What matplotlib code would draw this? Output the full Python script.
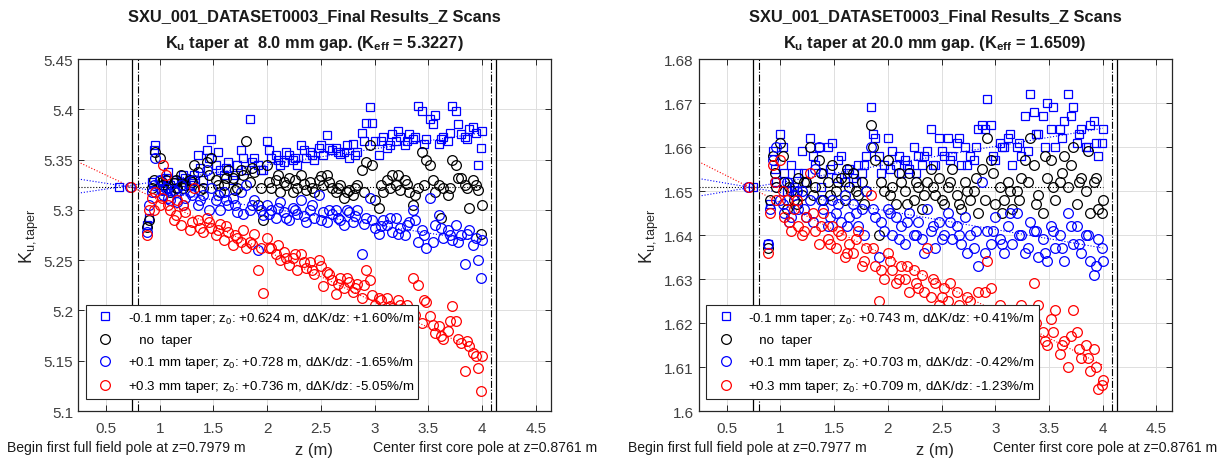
import numpy as np
import matplotlib
matplotlib.use('Agg')
import matplotlib.pyplot as plt
from matplotlib.ticker import FuncFormatter

plt.rcParams['font.family'] = ['Liberation Sans', 'DejaVu Sans']
plt.rcParams['mathtext.fontset'] = 'custom'
plt.rcParams['mathtext.rm'] = 'Liberation Sans'
plt.rcParams['mathtext.it'] = 'Liberation Sans:italic'
plt.rcParams['mathtext.bf'] = 'Liberation Sans:bold'

# measurement positions along the undulator (m): main scan + interleaved scan
z_pos = [0.88, 0.90, 0.93, 0.96, 1.00, 1.03, 1.06, 1.10, 1.13, 1.16,
         1.20, 1.24, 1.28, 1.32, 1.36, 1.40, 1.44, 1.48, 1.52, 1.56,
         1.60, 1.64, 1.68, 1.72, 1.76, 1.80, 1.84, 1.88, 1.92, 1.96,
         2.00, 2.04, 2.08, 2.12, 2.16, 2.20, 2.24, 2.28, 2.32, 2.36,
         2.40, 2.44, 2.48, 2.52, 2.56, 2.60, 2.64, 2.68, 2.72, 2.76,
         2.80, 2.84, 2.88, 2.92, 2.96, 3.00, 3.04, 3.08, 3.12, 3.16,
         3.20, 3.24, 3.28, 3.32, 3.36, 3.40, 3.44, 3.48, 3.52, 3.56,
         3.60, 3.64, 3.68, 3.72, 3.76, 3.80, 3.84, 3.88, 3.92, 3.96,
         4.00]
z_mid = [0.95, 1.02, 1.08, 1.15, 1.22, 1.30, 1.38, 1.46, 1.54, 1.62,
         1.70, 1.78, 1.86, 1.94, 2.02, 2.10, 2.18, 2.26, 2.34, 2.42,
         2.50, 2.58, 2.66, 2.74, 2.82, 2.90, 2.98, 3.06, 3.14, 3.22,
         3.30, 3.38, 3.46, 3.54, 3.62, 3.70, 3.78, 3.86, 3.94, 3.99]

# ---- 8.0 mm gap ----
k8_minus01 = [5.285, 5.292, 5.328, 5.365, 5.330, 5.320, 5.332, 5.325, 5.330, 5.322,
              5.328, 5.332, 5.325, 5.335, 5.355, 5.330, 5.360, 5.370, 5.345, 5.340,
              5.335, 5.348, 5.330, 5.345, 5.360, 5.340, 5.390, 5.352, 5.345, 5.340,
              5.368, 5.352, 5.355, 5.345, 5.348, 5.355, 5.350, 5.345, 5.365, 5.352,
              5.358, 5.350, 5.362, 5.355, 5.374, 5.360, 5.362, 5.356, 5.358, 5.352,
              5.366, 5.358, 5.376, 5.386, 5.402, 5.368, 5.355, 5.372, 5.362, 5.375,
              5.368, 5.372, 5.365, 5.375, 5.370, 5.403, 5.398, 5.370, 5.390, 5.394,
              5.366, 5.372, 5.368, 5.403, 5.398, 5.375, 5.372, 5.380, 5.382, 5.345,
              5.378]
k8_minus01_mid = [5.360, 5.325, 5.338, 5.328, 5.335, 5.330, 5.342, 5.352, 5.358, 5.342,
                  5.335, 5.352, 5.348, 5.340, 5.360, 5.350, 5.358, 5.352, 5.360, 5.355,
                  5.365, 5.362, 5.358, 5.365, 5.355, 5.368, 5.386, 5.368, 5.365, 5.378,
                  5.368, 5.372, 5.366, 5.385, 5.370, 5.376, 5.385, 5.370, 5.376, 5.362]
k8_none = [5.283, 5.290, 5.322, 5.358, 5.352, 5.325, 5.330, 5.318, 5.327, 5.322,
           5.335, 5.325, 5.330, 5.345, 5.338, 5.322, 5.348, 5.352, 5.330, 5.318,
           5.325, 5.340, 5.332, 5.322, 5.340, 5.368, 5.328, 5.338, 5.305, 5.290,
           5.345, 5.322, 5.330, 5.318, 5.328, 5.332, 5.318, 5.322, 5.335, 5.320,
           5.328, 5.318, 5.330, 5.325, 5.335, 5.322, 5.318, 5.325, 5.312, 5.320,
           5.315, 5.325, 5.340, 5.348, 5.365, 5.310, 5.302, 5.318, 5.330, 5.335,
           5.325, 5.320, 5.330, 5.318, 5.305, 5.322, 5.358, 5.350, 5.345, 5.318,
           5.325, 5.322, 5.315, 5.350, 5.345, 5.332, 5.325, 5.302, 5.330, 5.320,
           5.305]
k8_none_mid = [5.330, 5.328, 5.322, 5.330, 5.322, 5.328, 5.320, 5.335, 5.325, 5.332,
               5.320, 5.335, 5.342, 5.322, 5.328, 5.335, 5.325, 5.330, 5.326, 5.322,
               5.334, 5.328, 5.322, 5.318, 5.322, 5.318, 5.345, 5.325, 5.322, 5.335,
               5.326, 5.315, 5.325, 5.330, 5.292, 5.322, 5.332, 5.322, 5.325, 5.276]
k8_plus01 = [5.278, 5.305, 5.318, 5.352, 5.330, 5.315, 5.322, 5.310, 5.320, 5.308,
             5.325, 5.312, 5.318, 5.330, 5.305, 5.315, 5.340, 5.322, 5.310, 5.300,
             5.318, 5.305, 5.312, 5.298, 5.318, 5.325, 5.300, 5.310, 5.260, 5.295,
             5.305, 5.300, 5.292, 5.308, 5.298, 5.290, 5.302, 5.296, 5.310, 5.288,
             5.300, 5.292, 5.315, 5.298, 5.288, 5.296, 5.300, 5.290, 5.285, 5.298,
             5.288, 5.300, 5.256, 5.292, 5.312, 5.282, 5.276, 5.290, 5.285, 5.278,
             5.292, 5.282, 5.275, 5.288, 5.300, 5.268, 5.280, 5.262, 5.312, 5.285,
             5.295, 5.272, 5.280, 5.270, 5.285, 5.275, 5.246, 5.280, 5.265, 5.250,
             5.270]
k8_plus01_mid = [5.325, 5.320, 5.312, 5.318, 5.305, 5.315, 5.310, 5.300, 5.315, 5.310,
                 5.305, 5.296, 5.305, 5.300, 5.296, 5.302, 5.292, 5.300, 5.294, 5.305,
                 5.290, 5.300, 5.292, 5.300, 5.294, 5.286, 5.290, 5.284, 5.292, 5.276,
                 5.285, 5.290, 5.275, 5.268, 5.282, 5.275, 5.268, 5.276, 5.272, 5.232]
k8_plus03 = [5.275, 5.300, 5.312, 5.318, 5.305, 5.345, 5.335, 5.300, 5.290, 5.310,
             5.285, 5.298, 5.280, 5.322, 5.290, 5.278, 5.292, 5.282, 5.275, 5.286,
             5.270, 5.278, 5.265, 5.272, 5.268, 5.262, 5.268, 5.276, 5.240, 5.217,
             5.272, 5.262, 5.256, 5.250, 5.258, 5.245, 5.252, 5.240, 5.256, 5.242,
             5.248, 5.236, 5.250, 5.224, 5.238, 5.230, 5.216, 5.232, 5.222, 5.228,
             5.218, 5.226, 5.212, 5.240, 5.230, 5.205, 5.212, 5.200, 5.212, 5.202,
             5.196, 5.205, 5.192, 5.200, 5.232, 5.225, 5.188, 5.208, 5.194, 5.178,
             5.185, 5.172, 5.180, 5.204, 5.190, 5.168, 5.140, 5.165, 5.158, 5.143,
             5.155]
k8_plus03_mid = [5.300, 5.312, 5.305, 5.295, 5.305, 5.288, 5.282, 5.288, 5.280, 5.284,
                 5.275, 5.280, 5.266, 5.262, 5.262, 5.265, 5.252, 5.256, 5.248, 5.240,
                 5.244, 5.236, 5.226, 5.232, 5.222, 5.225, 5.215, 5.210, 5.204, 5.210,
                 5.205, 5.195, 5.210, 5.186, 5.175, 5.190, 5.172, 5.170, 5.155, 5.120]

# ---- 20.0 mm gap ----
k20_minus01 = [1.638, 1.647, 1.659, 1.652, 1.663, 1.654, 1.650, 1.656, 1.651, 1.654,
               1.659, 1.652, 1.662, 1.656, 1.660, 1.654, 1.660, 1.661, 1.653, 1.658,
               1.652, 1.655, 1.653, 1.656, 1.654, 1.658, 1.669, 1.662, 1.658, 1.656,
               1.662, 1.659, 1.656, 1.654, 1.657, 1.655, 1.660, 1.658, 1.656, 1.659,
               1.664, 1.656, 1.662, 1.658, 1.662, 1.658, 1.661, 1.656, 1.660, 1.658,
               1.657, 1.664, 1.665, 1.671, 1.665, 1.657, 1.661, 1.660, 1.662, 1.656,
               1.660, 1.658, 1.667, 1.672, 1.668, 1.663, 1.667, 1.670, 1.664, 1.660,
               1.664, 1.666, 1.672, 1.669, 1.661, 1.664, 1.660, 1.665, 1.666, 1.658,
               1.664]
k20_minus01_mid = [1.655, 1.660, 1.652, 1.650, 1.654, 1.658, 1.651, 1.655, 1.657, 1.654,
                   1.652, 1.656, 1.663, 1.654, 1.655, 1.658, 1.656, 1.654, 1.658, 1.656,
                   1.659, 1.657, 1.662, 1.656, 1.660, 1.664, 1.658, 1.660, 1.663, 1.661,
                   1.659, 1.663, 1.660, 1.669, 1.662, 1.667, 1.663, 1.660, 1.661, 1.661]
k20_none = [1.637, 1.648, 1.658, 1.651, 1.661, 1.652, 1.646, 1.650, 1.648, 1.653,
            1.649, 1.652, 1.660, 1.651, 1.657, 1.648, 1.652, 1.656, 1.650, 1.653,
            1.648, 1.651, 1.654, 1.649, 1.652, 1.650, 1.665, 1.657, 1.640, 1.650,
            1.657, 1.651, 1.647, 1.652, 1.650, 1.654, 1.648, 1.651, 1.646, 1.652,
            1.655, 1.649, 1.653, 1.647, 1.651, 1.655, 1.649, 1.646, 1.652, 1.648,
            1.650, 1.645, 1.655, 1.662, 1.657, 1.647, 1.651, 1.648, 1.652, 1.646,
            1.650, 1.653, 1.657, 1.662, 1.656, 1.649, 1.645, 1.653, 1.657, 1.648,
            1.652, 1.658, 1.651, 1.660, 1.647, 1.653, 1.650, 1.645, 1.652, 1.646,
            1.648]
k20_none_mid = [1.654, 1.658, 1.651, 1.647, 1.652, 1.649, 1.654, 1.649, 1.652, 1.655,
                1.650, 1.647, 1.660, 1.652, 1.649, 1.654, 1.647, 1.652, 1.649, 1.651,
                1.648, 1.652, 1.647, 1.650, 1.653, 1.648, 1.654, 1.645, 1.650, 1.648,
                1.652, 1.647, 1.658, 1.651, 1.654, 1.656, 1.652, 1.659, 1.653, 1.645]
k20_plus01 = [1.638, 1.646, 1.657, 1.660, 1.648, 1.645, 1.652, 1.644, 1.649, 1.646,
              1.650, 1.644, 1.648, 1.655, 1.660, 1.646, 1.642, 1.648, 1.645, 1.643,
              1.649, 1.644, 1.647, 1.642, 1.646, 1.650, 1.660, 1.644, 1.635, 1.641,
              1.646, 1.640, 1.644, 1.642, 1.638, 1.645, 1.640, 1.643, 1.639, 1.646,
              1.641, 1.637, 1.643, 1.640, 1.645, 1.639, 1.642, 1.638, 1.644, 1.640,
              1.637, 1.633, 1.652, 1.641, 1.638, 1.644, 1.639, 1.636, 1.642, 1.638,
              1.645, 1.640, 1.636, 1.643, 1.641, 1.635, 1.639, 1.634, 1.642, 1.637,
              1.640, 1.634, 1.645, 1.638, 1.642, 1.636, 1.640, 1.634, 1.631, 1.639,
              1.634]
k20_plus01_mid = [1.652, 1.647, 1.643, 1.650, 1.646, 1.643, 1.648, 1.644, 1.647, 1.642,
                  1.645, 1.640, 1.646, 1.643, 1.645, 1.639, 1.643, 1.640, 1.636, 1.642,
                  1.639, 1.643, 1.640, 1.636, 1.641, 1.636, 1.641, 1.638, 1.645, 1.640,
                  1.637, 1.641, 1.636, 1.641, 1.637, 1.642, 1.638, 1.640, 1.633, 1.637]
k20_plus03 = [1.636, 1.645, 1.656, 1.648, 1.657, 1.644, 1.648, 1.641, 1.646, 1.642,
              1.640, 1.644, 1.654, 1.641, 1.638, 1.645, 1.639, 1.642, 1.637, 1.640,
              1.635, 1.638, 1.636, 1.641, 1.633, 1.637, 1.649, 1.633, 1.625, 1.630,
              1.636, 1.632, 1.629, 1.633, 1.630, 1.627, 1.632, 1.628, 1.631, 1.637,
              1.626, 1.629, 1.624, 1.628, 1.625, 1.622, 1.627, 1.623, 1.620, 1.625,
              1.621, 1.627, 1.623, 1.634, 1.628, 1.618, 1.624, 1.620, 1.617, 1.622,
              1.619, 1.624, 1.616, 1.620, 1.629, 1.624, 1.618, 1.615, 1.621, 1.623,
              1.613, 1.616, 1.610, 1.623, 1.618, 1.612, 1.615, 1.609, 1.614, 1.605,
              1.607]
k20_plus03_mid = [1.652, 1.650, 1.643, 1.648, 1.641, 1.645, 1.642, 1.638, 1.641, 1.636,
                  1.639, 1.634, 1.637, 1.632, 1.634, 1.630, 1.633, 1.629, 1.627, 1.630,
                  1.626, 1.629, 1.624, 1.626, 1.622, 1.627, 1.621, 1.623, 1.619, 1.622,
                  1.617, 1.620, 1.616, 1.618, 1.615, 1.617, 1.614, 1.612, 1.610, 1.606]

taper_labels = ['-0.1', '+0.1', '+0.3']
z0_8 = [0.624, 0.728, 0.736]
slope_8 = [1.60, -1.65, -5.05]        # dDeltaK/dz, %/m
z0_20 = [0.743, 0.703, 0.709]
slope_20 = [0.41, -0.42, -1.23]

keff_8 = 5.3227
keff_20 = 1.6509
begin_pole = [0.7979, 0.7977]
core_pole = 0.8761
z_end = 4.0


def fmt(v, pos):
    return f'{round(v, 4):g}'


def draw_panel(ax, series, keff, gap, z0s, slopes, zbeg, ylim, ystep):
    xlim = (0.24, 4.64)
    colors = ['b', 'b', 'r']
    fit_x = np.array([xlim[0], z_end])
    # linear fits of the taper series
    ax.plot(fit_x, [keff, keff], ':', color='k', lw=0.8)
    for z0, s, c in zip(z0s, slopes, colors):
        ax.plot(fit_x, keff + s / 100 * (fit_x - z0), ':', color=c, lw=0.8)

    labels = [f'{taper_labels[0]} mm taper; z$_0$: +{z0s[0]:.3f} m, d\u0394K/dz: {slopes[0]:+.2f}%/m',
              '   no  taper',
              f'{taper_labels[1]} mm taper; z$_0$: +{z0s[1]:.3f} m, d\u0394K/dz: {slopes[1]:+.2f}%/m',
              f'{taper_labels[2]} mm taper; z$_0$: +{z0s[2]:.3f} m, d\u0394K/dz: {slopes[2]:+.2f}%/m']
    styles = [('s', 'b', 6), ('o', 'k', 7), ('o', 'b', 7), ('o', 'r', 7)]
    kw = dict(ls='none', mfc='none', mew=0.9)
    handles = []
    for (main, mid), (m, c, ms), lab in zip(series, styles, labels):
        h, = ax.plot(z_pos + z_mid, main + mid, m, mec=c, ms=ms, label=lab, **kw)
        handles.append(h)
    # fit reference points at z0
    ax.plot([z0s[0]], [keff], 's', mec='b', ms=6, **kw)
    ax.plot([z0s[1]], [keff], 'o', mec='b', ms=7, **kw)
    ax.plot([z0s[2]], [keff], 'o', mec='r', ms=7, **kw)

    for x in [0.745, 4.135]:
        ax.axvline(x, color='k', lw=0.9)
    for x in [zbeg, 4.085]:
        ax.axvline(x, color='k', lw=0.8, ls='-.')

    ax.set_xlim(*xlim)
    ax.set_ylim(*ylim)
    ax.set_xticks(np.arange(0.5, 4.51, 0.5))
    ax.set_yticks(np.arange(ylim[0], ylim[1] + ystep / 2, ystep))
    ax.xaxis.set_major_formatter(FuncFormatter(fmt))
    ax.yaxis.set_major_formatter(FuncFormatter(fmt))
    ax.tick_params(direction='in', top=True, right=True, length=4, width=0.7,
                   labelsize=11, labelcolor='#404040', color='#262626')
    ax.tick_params(axis='x', pad=7)
    ax.grid(True, color='#dedede', lw=0.7)
    ax.set_axisbelow(True)
    for sp in ax.spines.values():
        sp.set_color('#262626')
        sp.set_linewidth(0.9)

    ax.set_title('SXU_001_DATASET0003_Final Results_Z Scans\n'
                 + r'K$_{\mathbf{u}}$ taper at ' + f'{gap:4.1f}' + r' mm gap. (K$_{\mathbf{eff}}$ = '
                 + f'{keff:.4f})', fontsize=11.8, fontweight='bold', color='#1a1a1a', pad=9,
                 linespacing=1.7)
    ax.set_ylabel(r'K$_{\mathrm{u,taper}}$', fontsize=13, color='#262626', labelpad=2)
    ax.set_xlabel('z (m)', fontsize=12, color='#262626', labelpad=5)

    leg = ax.legend(handles=handles, loc='lower left', bbox_to_anchor=(0.016, 0.034),
                    borderaxespad=0, fontsize=9.6, fancybox=False, framealpha=1,
                    edgecolor='#262626', labelspacing=0.6, handletextpad=0.6,
                    handlelength=2.2, borderpad=0.35)
    leg.get_frame().set_linewidth(0.8)


fig = plt.figure(figsize=(12.28, 4.60), dpi=100)
ax1 = fig.add_axes([0.0635, 0.1043, 0.385, 0.7652])
ax2 = fig.add_axes([0.569, 0.1043, 0.385, 0.7652])

draw_panel(ax1, [(k8_minus01, k8_minus01_mid), (k8_none, k8_none_mid),
                 (k8_plus01, k8_plus01_mid), (k8_plus03, k8_plus03_mid)],
           keff_8, 8.0, z0_8, slope_8, begin_pole[0], (5.1, 5.45), 0.05)
draw_panel(ax2, [(k20_minus01, k20_minus01_mid), (k20_none, k20_none_mid),
                 (k20_plus01, k20_plus01_mid), (k20_plus03, k20_plus03_mid)],
           keff_20, 20.0, z0_20, slope_20, begin_pole[1], (1.6, 1.68), 0.01)

fig.text(0.006, 0.026, f'Begin first full field pole at z={begin_pole[0]:.4f} m',
         fontsize=10.1, color='#1a1a1a', va='center', ha='left')
fig.text(0.486, 0.026, f'Center first core pole at z={core_pole:.4f} m',
         fontsize=10.1, color='#1a1a1a', va='center', ha='right')
fig.text(0.511, 0.026, f'Begin first full field pole at z={begin_pole[1]:.4f} m',
         fontsize=10.1, color='#1a1a1a', va='center', ha='left')
fig.text(0.991, 0.026, f'Center first core pole at z={core_pole:.4f} m',
         fontsize=10.1, color='#1a1a1a', va='center', ha='right')

fig.savefig('out.png', dpi=100)
